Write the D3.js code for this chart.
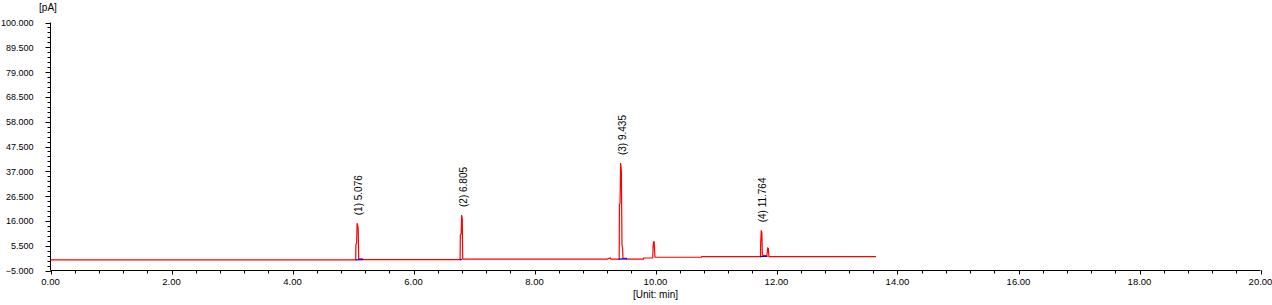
<!DOCTYPE html>
<html>
<head>
<meta charset="utf-8">
<script src="https://cdn.jsdelivr.net/npm/d3@7"></script>
<style>
  body { margin: 0; background: #fff; }
  text { font-family: "Liberation Sans", Arial, sans-serif; fill: #000; }
</style>
</head>
<body>
<div id="chart"></div>
<script>
var svgWidth = 1272;
var svgHeight = 305;

// chromatogram signal (red), [time min, pA]
var signalTrace = [
  [0, -0.5], [5.045, -0.5], [5.048, 6.0], [5.060, 6.5], [5.068, 15.0], [5.078, 14.0], [5.086, 12.5],
  [5.094, -0.1], [5.155, -0.1], [5.16, -0.4],
  [6.770, -0.4], [6.774, 10.0], [6.788, 10.5], [6.796, 18.5], [6.806, 17.0], [6.814, -0.1], [6.83, -0.2],
  [9.20, -0.2], [9.255, 0.3], [9.265, -0.2],
  [9.400, -0.2], [9.404, 23.0], [9.414, 23.5], [9.424, 40.5], [9.436, 37.0], [9.446, 5.8], [9.456, 4.5],
  [9.462, 0.1], [9.52, 0.1], [9.525, -0.2],
  [9.80, -0.2], [9.805, 0.3], [9.955, 0.3], [9.96, 5.0], [9.968, 7.1], [9.978, 7.1], [9.986, 3.0], [9.992, 0.6],
  [10.76, 0.6], [10.765, 0.9],
  [11.735, 0.9], [11.738, 6.0], [11.748, 12.0], [11.758, 11.0], [11.766, 1.5], [11.84, 1.2],
  [11.855, 4.5], [11.865, 4.3], [11.875, 0.9], [13.645, 0.9]
];

// integration baselines (blue)
var baselines = [
  [[5.045, -0.5], [5.16, -0.4]],
  [[6.77, -0.4], [6.80, -0.3]],
  [[9.39, -0.2], [9.53, -0.1]],
  [[11.73, 0.9], [11.85, 1.0]]
];

// peak labels
var peakTimes = [5.070, 6.800, 9.426, 11.750];
var peakApex = [15.0, 18.5, 40.5, 12.0];
var peakLabels = ["(1) 5.076", "(2) 6.805", "(3) 9.435", "(4) 11.764"];

var xTicks = d3.range(0, 20.01, 2);
var xMinor = d3.range(0, 20.01, 0.4);
var yTicks = d3.range(-5, 100.01, 10.5);
var yMinor = d3.range(-5, 100.01, 2.1);

var svg = d3.select("#chart").append("svg")
  .attr("width", svgWidth)
  .attr("height", svgHeight);

var x = d3.scaleLinear().domain([0, 20]).range([50.5, 1260.5]);
var y = d3.scaleLinear().domain([-5, 100]).range([270.5, 22.5]);

// y axis
var yAxis = svg.append("g").attr("transform", "translate(50.5,0)");
yAxis.append("line").attr("y1", y(100)).attr("y2", y(-5)).attr("stroke", "#000");
yAxis.selectAll(".ymin").data(yMinor).enter().append("line")
  .attr("x1", -3).attr("x2", 0)
  .attr("y1", d => Math.round(y(d)) + 0.5).attr("y2", d => Math.round(y(d)) + 0.5)
  .attr("stroke", "#000");
yAxis.selectAll(".ymaj").data(yTicks).enter().append("line")
  .attr("x1", -5).attr("x2", 0)
  .attr("y1", d => Math.round(y(d)) + 0.5).attr("y2", d => Math.round(y(d)) + 0.5)
  .attr("stroke", "#000");
yAxis.selectAll("text").data(yTicks).enter().append("text")
  .attr("x", -17).attr("y", d => y(d) + 3.5)
  .attr("text-anchor", "end")
  .style("font-size", "9px")
  .text(d => d3.format(".3f")(d));

// x axis
var xAxis = svg.append("g").attr("transform", "translate(0,270.5)");
xAxis.append("line").attr("x1", x(0)).attr("x2", x(20)).attr("stroke", "#000");
xAxis.selectAll(".xmin").data(xMinor).enter().append("line")
  .attr("x1", d => Math.round(x(d)) + 0.5).attr("x2", d => Math.round(x(d)) + 0.5)
  .attr("y1", 0).attr("y2", 3)
  .attr("stroke", "#000");
xAxis.selectAll(".xmaj").data(xTicks).enter().append("line")
  .attr("x1", d => Math.round(x(d)) + 0.5).attr("x2", d => Math.round(x(d)) + 0.5)
  .attr("y1", 0).attr("y2", 4)
  .attr("stroke", "#000");
xAxis.selectAll("text").data(xTicks).enter().append("text")
  .attr("x", d => x(d)).attr("y", 14)
  .attr("text-anchor", "middle")
  .style("font-size", "9.5px")
  .text(d => d3.format(".2f")(d));

// unit labels
svg.append("text").attr("x", 48).attr("y", 11)
  .attr("text-anchor", "middle").style("font-size", "10px").text("[pA]");
svg.append("text").attr("x", x(10)).attr("y", 298)
  .attr("text-anchor", "middle").style("font-size", "10px").text("[Unit: min]");

var line = d3.line().x(d => x(d[0])).y(d => y(d[1]));

svg.append("path")
  .datum(signalTrace)
  .attr("d", line)
  .attr("fill", "none")
  .attr("stroke", "#ff0000")
  .attr("stroke-width", 1.2);

svg.selectAll(".base").data(baselines).enter().append("path")
  .attr("d", line)
  .attr("fill", "none")
  .attr("stroke", "#0000ff")
  .attr("stroke-width", 1.2);

// peak labels
svg.selectAll(".plabel").data(peakLabels).enter().append("text")
  .attr("transform", (d, i) => `translate(${x(peakTimes[i]) + 5},${y(peakApex[i]) - 8}) rotate(-90)`)
  .style("font-size", "10px")
  .text(d => d);
</script>
</body>
</html>
